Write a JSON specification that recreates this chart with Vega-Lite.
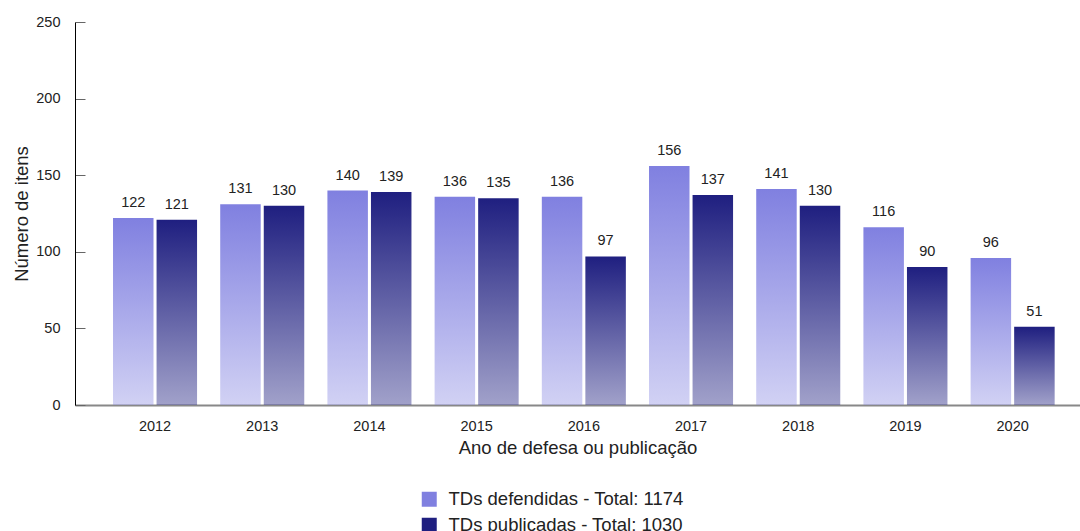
{
  "$schema": "https://vega.github.io/schema/vega-lite/v6.json",
  "autosize": {"type": "none"},
  "width": 1005,
  "height": 383,
  "padding": {"left": 75, "top": 22, "right": 0, "bottom": 126},
  "background": "white",
  "config": {
    "view": {"stroke": null},
    "font": "Liberation Sans",
    "axis": {"grid": false, "labelColor": "#222", "titleColor": "#222", "titleFontWeight": "normal", "labelFont": "Liberation Sans", "titleFont": "Liberation Sans"},
    "legend": {"labelFont": "Liberation Sans"}
  },
  "data": {
    "values": [
      {"ano": "2012", "serie": "TDs defendidas - Total: 1174", "n": 122},
      {"ano": "2012", "serie": "TDs publicadas - Total: 1030", "n": 121},
      {"ano": "2013", "serie": "TDs defendidas - Total: 1174", "n": 131},
      {"ano": "2013", "serie": "TDs publicadas - Total: 1030", "n": 130},
      {"ano": "2014", "serie": "TDs defendidas - Total: 1174", "n": 140},
      {"ano": "2014", "serie": "TDs publicadas - Total: 1030", "n": 139},
      {"ano": "2015", "serie": "TDs defendidas - Total: 1174", "n": 136},
      {"ano": "2015", "serie": "TDs publicadas - Total: 1030", "n": 135},
      {"ano": "2016", "serie": "TDs defendidas - Total: 1174", "n": 136},
      {"ano": "2016", "serie": "TDs publicadas - Total: 1030", "n": 97},
      {"ano": "2017", "serie": "TDs defendidas - Total: 1174", "n": 156},
      {"ano": "2017", "serie": "TDs publicadas - Total: 1030", "n": 137},
      {"ano": "2018", "serie": "TDs defendidas - Total: 1174", "n": 141},
      {"ano": "2018", "serie": "TDs publicadas - Total: 1030", "n": 130},
      {"ano": "2019", "serie": "TDs defendidas - Total: 1174", "n": 116},
      {"ano": "2019", "serie": "TDs publicadas - Total: 1030", "n": 90},
      {"ano": "2020", "serie": "TDs defendidas - Total: 1174", "n": 96},
      {"ano": "2020", "serie": "TDs publicadas - Total: 1030", "n": 51}
    ]
  },
  "encoding": {
    "x": {
      "field": "ano", "type": "nominal", "sort": "ascending",
      "scale": {"paddingInner": 0.216, "paddingOuter": 0.2955, "align": 0.6},
      "axis": {
        "title": "Ano de defesa ou publicação", "labelAngle": 0, "ticks": false,
        "labelPadding": 14, "labelFontSize": 14.5, "titleFontSize": 18.5, "titlePadding": 6,
        "domainColor": "#888", "domainWidth": 2
      }
    },
    "y": {
      "field": "n", "type": "quantitative",
      "scale": {"domain": [0, 250], "nice": false},
      "axis": {
        "title": "Número de itens", "values": [0, 50, 100, 150, 200, 250],
        "tickSize": -10, "tickColor": "#666", "labelPadding": 25, "labelFontSize": 14.5,
        "titleFontSize": 18.5, "titleX": -48, "titleBaseline": "alphabetic",
        "domainColor": "#000", "domainWidth": 1
      }
    },
    "xOffset": {
      "field": "serie", "type": "nominal",
      "scale": {"domain": ["TDs defendidas - Total: 1174", "TDs publicadas - Total: 1030"], "paddingInner": 0.07}
    }
  },
  "layer": [
    {
      "transform": [{"filter": "datum.serie === 'TDs defendidas - Total: 1174'"}],
      "mark": {"type": "bar", "fill": {"gradient": "linear", "x1": 0, "y1": 0, "x2": 0, "y2": 1, "stops": [{"offset": 0, "color": "#8080E0"}, {"offset": 1, "color": "rgba(128,128,224,0.36)"}]}}
    },
    {
      "transform": [{"filter": "datum.serie === 'TDs publicadas - Total: 1030'"}],
      "mark": {"type": "bar", "fill": {"gradient": "linear", "x1": 0, "y1": 0, "x2": 0, "y2": 1, "stops": [{"offset": 0, "color": "#1F1F80"}, {"offset": 1, "color": "rgba(31,31,128,0.42)"}]}}
    },
    {
      "mark": {"type": "text", "baseline": "bottom", "dy": -8, "fontSize": 14.5, "color": "#222", "font": "Liberation Sans"},
      "encoding": {"text": {"field": "n", "type": "quantitative"}}
    },
    {
      "mark": {"type": "point", "filled": true, "opacity": 0},
      "encoding": {
        "color": {
          "field": "serie", "type": "nominal",
          "scale": {"domain": ["TDs defendidas - Total: 1174", "TDs publicadas - Total: 1030"], "range": ["#8080E0", "#1F1F80"]},
          "legend": {
            "title": null, "orient": "none", "legendX": 345, "legendY": 468,
            "symbolType": "square", "symbolSize": 225, "symbolOpacity": 1, "symbolStrokeWidth": 0,
            "labelFontSize": 18.5, "labelColor": "#222", "labelOffset": 10, "rowPadding": 7, "labelLimit": 400
          }
        }
      }
    }
  ]
}
